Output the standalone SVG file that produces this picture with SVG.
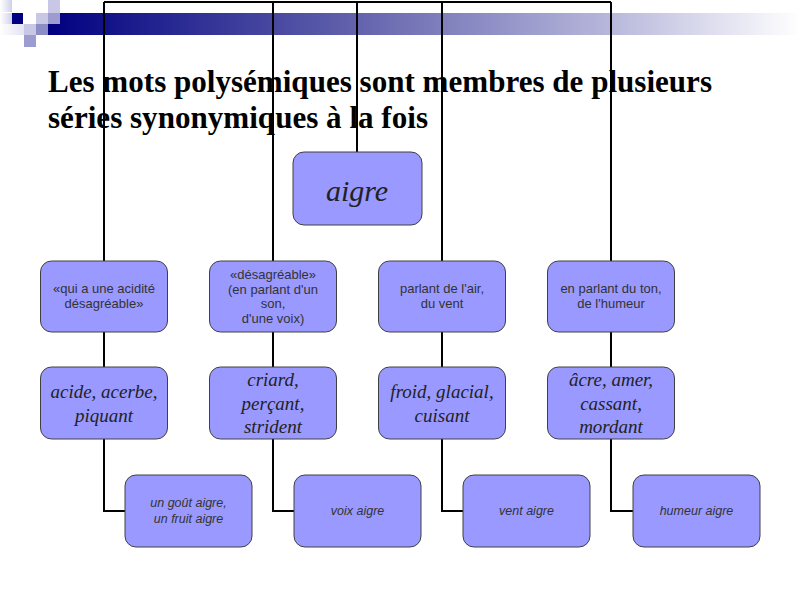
<svg xmlns="http://www.w3.org/2000/svg" width="800" height="600" viewBox="0 0 800 600">
<defs>
<linearGradient id="bar" x1="0" y1="0" x2="1" y2="0">
<stop offset="0" stop-color="#000080"/>
<stop offset="0.4" stop-color="#6060ac"/>
<stop offset="0.75" stop-color="#b8b8dc"/>
<stop offset="1" stop-color="#ffffff"/>
</linearGradient>
<linearGradient id="fade" x1="0" y1="0" x2="1" y2="0">
<stop offset="0" stop-color="#ffffff"/>
<stop offset="1" stop-color="#d0d0ea"/>
</linearGradient>
</defs>
<style>
.box{fill:#9999ff;stroke:#404040;stroke-width:1}
.c{fill:none;stroke:#000;stroke-width:2}
.t1{font-family:"Liberation Sans",Arial,sans-serif;font-size:13px;fill:#333;text-anchor:middle}
.t2{font-family:"Liberation Serif","Times New Roman",serif;font-size:19px;font-style:italic;fill:#222;text-anchor:middle}
.t3{font-family:"Liberation Sans",Arial,sans-serif;font-size:12.5px;font-style:italic;fill:#333;text-anchor:middle}
.title{font-family:"Liberation Serif","Times New Roman",serif;font-size:31px;font-weight:bold;fill:#000}
</style>
<rect width="800" height="600" fill="#fff"/>
<g id="banner">
<rect x="48" y="13" width="752" height="22" fill="url(#bar)"/>
<rect x="0" y="0" width="12" height="12" fill="url(#fade)"/>
<rect x="0" y="13" width="12" height="11" fill="url(#fade)"/>
<rect x="0" y="24" width="24" height="11" fill="url(#fade)" opacity="0.6"/>
<rect x="48" y="0" width="12" height="13" fill="#c8c8e6"/>
<rect x="12" y="13" width="11" height="11" fill="#000080"/>
<rect x="36" y="13" width="12" height="11" fill="#c8c8e6"/>
<rect x="48" y="13" width="12" height="11" fill="#9c9cce"/>
<rect x="24" y="24" width="12" height="11" fill="#c8c8e6"/>
<rect x="36" y="24" width="12" height="11" fill="#8c8cc6"/>
<rect x="24" y="35" width="12" height="12" fill="#9c9cce"/>
</g>
<g id="title">
<text class="title" x="48" y="92" textLength="664" lengthAdjust="spacingAndGlyphs">Les mots polysémiques sont membres de plusieurs</text>
<text class="title" x="48" y="128" textLength="380" lengthAdjust="spacingAndGlyphs">séries synonymiques à la fois</text>
</g>
<g id="connectors">
<path class="c" d="M357 152V2M104 2H611M104 2V261M273 2V261M442 2V261M611 2V261"/>
<path class="c" d="M104 332V367M273 332V367M442 332V367M611 332V367"/>
<path class="c" d="M104 439V511H125M273 439V511H294M442 439V511H463M611 439V511H633"/>
</g>
<g id="aigre">
<rect class="box" x="293" y="152" width="129" height="73" rx="11"/>
<text x="357" y="201" font-family="'Liberation Serif','Times New Roman',serif" font-size="30" font-style="italic" fill="#222" text-anchor="middle">aigre</text>
</g>
<g id="sens1">
<rect class="box" x="40.5" y="261" width="127" height="71" rx="11"/>
<text class="t1" x="104" y="293">«qui a une acidité</text>
<text class="t1" x="104" y="308">désagréable»</text>
</g>
<g id="sens2">
<rect class="box" x="209.5" y="261" width="127" height="71" rx="11"/>
<text class="t1" x="273" y="279">«désagréable»</text>
<text class="t1" x="273" y="293.5">(en parlant d'un</text>
<text class="t1" x="273" y="308">son,</text>
<text class="t1" x="273" y="322.5">d'une voix)</text>
</g>
<g id="sens3">
<rect class="box" x="378.5" y="261" width="127" height="71" rx="11"/>
<text class="t1" x="442" y="293">parlant de l'air,</text>
<text class="t1" x="442" y="308">du vent</text>
</g>
<g id="sens4">
<rect class="box" x="547.5" y="261" width="127" height="71" rx="11"/>
<text class="t1" x="611" y="293">en parlant du ton,</text>
<text class="t1" x="611" y="308">de l'humeur</text>
</g>
<g id="syn1">
<rect class="box" x="40.5" y="367" width="127" height="72" rx="11"/>
<text class="t2" x="104" y="397.5">acide, acerbe,</text>
<text class="t2" x="104" y="421.5">piquant</text>
</g>
<g id="syn2">
<rect class="box" x="209.5" y="367" width="127" height="72" rx="11"/>
<text class="t2" x="273" y="386">criard,</text>
<text class="t2" x="273" y="409.5">perçant,</text>
<text class="t2" x="273" y="433">strident</text>
</g>
<g id="syn3">
<rect class="box" x="378.5" y="367" width="127" height="72" rx="11"/>
<text class="t2" x="442" y="397.5">froid, glacial,</text>
<text class="t2" x="442" y="421.5">cuisant</text>
</g>
<g id="syn4">
<rect class="box" x="547.5" y="367" width="127" height="72" rx="11"/>
<text class="t2" x="611" y="386">âcre, amer,</text>
<text class="t2" x="611" y="409.5">cassant,</text>
<text class="t2" x="611" y="433">mordant</text>
</g>
<g id="ex1">
<rect class="box" x="125" y="475" width="127" height="72" rx="11"/>
<text class="t3" x="188.5" y="507">un goût aigre,</text>
<text class="t3" x="188.5" y="523">un fruit aigre</text>
</g>
<g id="ex2">
<rect class="box" x="294" y="475" width="127" height="72" rx="11"/>
<text class="t3" x="357.5" y="515">voix aigre</text>
</g>
<g id="ex3">
<rect class="box" x="463" y="475" width="127" height="72" rx="11"/>
<text class="t3" x="526.5" y="515">vent aigre</text>
</g>
<g id="ex4">
<rect class="box" x="633" y="475" width="127" height="72" rx="11"/>
<text class="t3" x="696.5" y="515">humeur aigre</text>
</g>
</svg>
